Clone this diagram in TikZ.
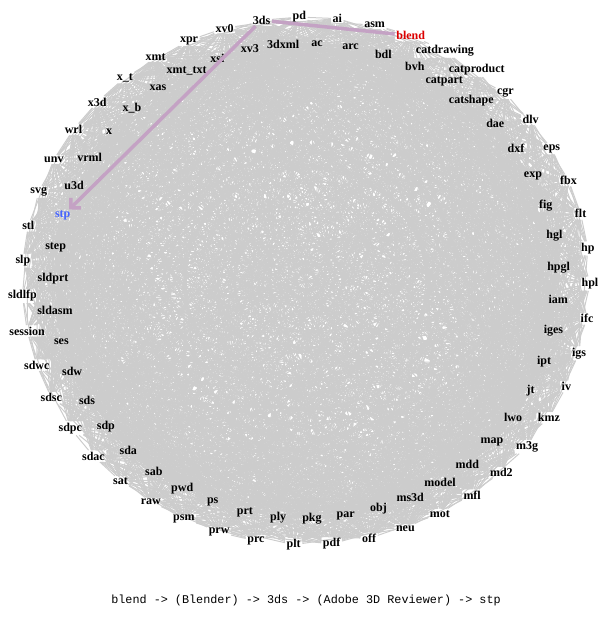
\documentclass[tikz,border=0pt]{standalone}
\usepackage{fontspec}
\setmainfont{Liberation Serif}
\setmonofont{Liberation Mono}
\usetikzlibrary{arrows.meta}

\pgfdeclarelayer{edges}
\pgfsetlayers{edges,main}

\definecolor{edgegray}{RGB}{204,204,204}
\definecolor{pathmauve}{RGB}{196,162,196}
\definecolor{srcred}{RGB}{220,0,0}
\definecolor{dstblue}{RGB}{70,100,255}

\tikzset{
  fmt/.style={font=\bfseries\fontsize{12}{12}\selectfont, inner sep=1.5pt},
  conv/.style={draw=edgegray, line width=1pt},
  route/.style={draw=pathmauve, line width=3.5pt},
  lbl9/.style={text=srcred},
  lbl78/.style={text=dstblue},
}

\begin{document}
\begin{tikzpicture}[x=1pt,y=-1pt]
\useasboundingbox (0,0) rectangle (607,617);

% formats round the ring, odd ones outside
\foreach \f [count=\i] in {3ds,3dxml,pd,ac,ai,arc,asm,bdl,blend,bvh,
    catdrawing,catpart,catproduct,catshape,cgr,dae,dlv,dxf,eps,exp,
    fbx,fig,flt,hgl,hp,hpgl,hpl,iam,ifc,iges,igs,ipt,iv,jt,kmz,lwo,
    m3g,map,md2,mdd,mfl,model,mot,ms3d,neu,obj,off,par,pdf,pkg,plt,
    ply,prc,prt,prw,ps,psm,pwd,raw,sab,sat,sda,sdac,sdp,sdpc,sds,
    sdsc,sdw,sdwc,ses,session,sldasm,sldlfp,sldprt,slp,step,stl,stp,
    svg,u3d,unv,vrml,wrl,x,x3d,x\_b,x\_t,xas,xmt,xmt\_txt,xpr,xsi,
    xv0,xv3}{
  \pgfmathsetmacro\ang{-9+360/94*(\i-1)}
  \pgfmathsetmacro\rx{mod(\i,2)==1 ? 284 : 253}
  \pgfmathsetmacro\ry{mod(\i,2)==1 ? 264 : 238}
  \node[fmt, lbl\i/.try] (n\i) at ({306+\rx*sin(\ang)}, {281-\ry*cos(\ang)}) {\f};
}

% conversions
\pgfmathsetseed{42}
\begin{pgfonlayer}{edges}
\foreach \i in {1,...,93}{
  \pgfmathtruncatemacro\k{\i+1}
  \foreach \j in {\k,...,94}{
    \pgfmathtruncatemacro\keep{rnd<0.45}
    \ifnum\keep=1 \draw[conv] (n\i) -- (n\j); \fi
  }
}
\end{pgfonlayer}

% blend -> 3ds -> stp
\draw[route] (n9) -- (n1);
\draw[route, -{Straight Barb[length=7pt,width=14pt]}] (n1) -- (n78);

\node (cap) at (306,600) {\ttfamily\fontsize{11.8}{12}\selectfont blend -> (Blender) -> 3ds -> (Adobe 3D Reviewer) -> stp};
\end{tikzpicture}
\end{document}
